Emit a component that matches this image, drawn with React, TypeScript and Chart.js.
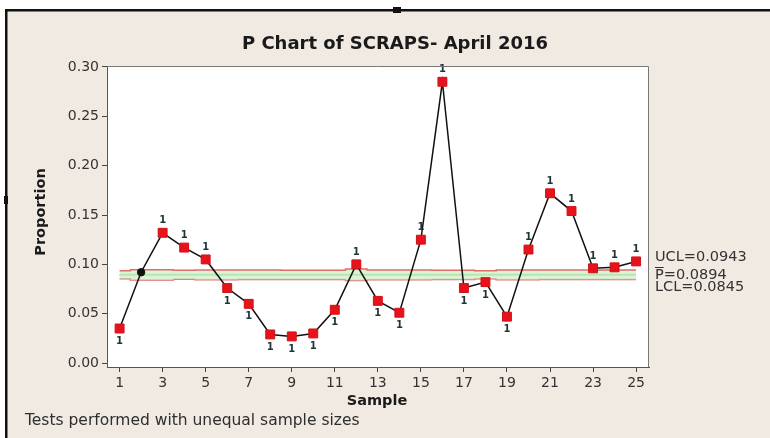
import React, { useEffect, useRef } from "react";
import { Chart, registerables } from "chart.js";

Chart.register(...registerables);

const samples = [1, 2, 3, 4, 5, 6, 7, 8, 9, 10, 11, 12, 13, 14, 15, 16, 17, 18, 19, 20, 21, 22, 23, 24, 25];
const proportions = [0.035, 0.092, 0.132, 0.117, 0.105, 0.076, 0.060, 0.029, 0.027, 0.030, 0.054, 0.100, 0.063, 0.051, 0.125, 0.285, 0.076, 0.082, 0.047, 0.115, 0.172, 0.154, 0.096, 0.097, 0.103];
const ucl = [0.0935, 0.0946, 0.0946, 0.0940, 0.0944, 0.0944, 0.0942, 0.0942, 0.0941, 0.0941, 0.0941, 0.0952, 0.0944, 0.0944, 0.0944, 0.0941, 0.0941, 0.0935, 0.0943, 0.0943, 0.0942, 0.0942, 0.0942, 0.0942, 0.0942];
const lcl = [0.0853, 0.0842, 0.0842, 0.0848, 0.0844, 0.0844, 0.0846, 0.0846, 0.0847, 0.0847, 0.0847, 0.0836, 0.0844, 0.0844, 0.0844, 0.0847, 0.0847, 0.0853, 0.0845, 0.0845, 0.0846, 0.0846, 0.0846, 0.0846, 0.0846];
const pBar = 0.0894;
const testLabels = ["1", "", "1", "1", "1", "1", "1", "1", "1", "1", "1", "1", "1", "1", "1", "1", "1", "1", "1", "1", "1", "1", "1", "1", "1"];
const xTicks = [1, 3, 5, 7, 9, 11, 13, 15, 17, 19, 21, 23, 25];
const yTicks = [0, 0.05, 0.1, 0.15, 0.2, 0.25, 0.3];
const limitLabels = ["UCL=0.0943", "P=0.0894", "LCL=0.0845"];
const titleText = "P Chart of SCRAPS- April 2016";
const footText = "Tests performed with unequal sample sizes";

const decor = {
  id: "decor",
  beforeDraw(chart: any) {
    const { ctx, chartArea: a } = chart;
    ctx.save();
    ctx.fillStyle = "#ffffff";
    ctx.fillRect(0, 0, 770, 438);
    ctx.fillStyle = "#f0eae3";
    ctx.fillRect(6, 11, 764, 427);
    ctx.fillStyle = "#111111";
    ctx.fillRect(5, 9, 765, 2.5);
    ctx.fillRect(5, 9, 2.5, 429);
    ctx.fillRect(393, 7, 8, 6);
    ctx.fillRect(4, 196, 4, 8);
    ctx.fillStyle = "#ffffff";
    ctx.fillRect(a.left, a.top, a.right - a.left, a.bottom - a.top);
    ctx.restore();
  },
  afterDatasetsDraw(chart: any) {
    const { ctx } = chart;
    const meta = chart.getDatasetMeta(0);
    ctx.save();
    ctx.font = "bold 10px 'DejaVu Sans'";
    ctx.fillStyle = "#1f3535";
    ctx.textAlign = "center";
    ctx.textBaseline = "middle";
    meta.data.forEach((pt: any, i: number) => {
      const lab = testLabels[i];
      if (!lab) return;
      const above = proportions[i] > ucl[i];
      ctx.fillText(lab, pt.x, above ? pt.y - 12 : pt.y + 13);
    });
    ctx.restore();
  },
  afterDraw(chart: any) {
    const { ctx, chartArea: a } = chart;
    ctx.save();
    ctx.strokeStyle = "#777777";
    ctx.lineWidth = 1;
    ctx.beginPath();
    ctx.moveTo(a.left, a.top + 0.5);
    ctx.lineTo(a.right - 0.5, a.top + 0.5);
    ctx.lineTo(a.right - 0.5, a.bottom);
    ctx.stroke();

    ctx.fillStyle = "#1a1a1a";
    ctx.textAlign = "center";
    ctx.textBaseline = "middle";
    ctx.font = "bold 18px 'DejaVu Sans'";
    ctx.fillText(titleText, 395, 44);

    ctx.font = "bold 14.5px 'DejaVu Sans'";
    ctx.fillText("Sample", 377, 401);
    ctx.save();
    ctx.translate(41, 212);
    ctx.rotate(-Math.PI / 2);
    ctx.fillText("Proportion", 0, 0);
    ctx.restore();

    ctx.fillStyle = "#2e2e2e";
    ctx.textAlign = "left";
    ctx.font = "15.5px 'DejaVu Sans'";
    ctx.fillText(footText, 25, 421);

    ctx.font = "14.5px 'DejaVu Sans'";
    ctx.fillStyle = "#333333";
    const ys = [257, 275, 287.5];
    limitLabels.forEach((t, i) => ctx.fillText(t, 655, ys[i]));
    const wP = ctx.measureText("P").width;
    ctx.strokeStyle = "#333333";
    ctx.lineWidth = 1;
    ctx.beginPath();
    ctx.moveTo(655, 267.5);
    ctx.lineTo(655 + wP, 267.5);
    ctx.stroke();
    ctx.restore();
  },
};

export default function App() {
  const ref = useRef<HTMLCanvasElement | null>(null);
  useEffect(() => {
    if (!ref.current) return;
    const pts = samples.map((s, i) => ({ x: s, y: proportions[i] }));
    const chart = new Chart(ref.current, {
      type: "line",
      data: {
        datasets: [
          {
            data: pts,
            borderColor: "#111111",
            borderWidth: 1.5,
            pointStyle: samples.map((_, i) => (testLabels[i] ? "rect" : "circle")) as any,
            pointRadius: samples.map((_, i) => (testLabels[i] ? 6.3 : 3.7)),
            pointBackgroundColor: samples.map((_, i) => (testLabels[i] ? "#e8131a" : "#111111")),
            pointBorderColor: samples.map((_, i) => (testLabels[i] ? "#d01018" : "#111111")),
            pointBorderWidth: 1,
            tension: 0,
          },
          {
            data: samples.map((s, i) => ({ x: s, y: ucl[i] })),
            borderColor: "#e06c6c",
            borderWidth: 1.5,
            pointRadius: 0,
            stepped: "middle",
            fill: { target: 3 },
            backgroundColor: "rgba(205,238,195,0.7)",
          },
          {
            data: samples.map((s) => ({ x: s, y: pBar })),
            borderColor: "#86d086",
            borderWidth: 2,
            pointRadius: 0,
            fill: false,
          },
          {
            data: samples.map((s, i) => ({ x: s, y: lcl[i] })),
            borderColor: "#e06c6c",
            borderWidth: 1.5,
            pointRadius: 0,
            stepped: "middle",
            fill: false,
          },
        ],
      },
      options: {
        responsive: false,
        animation: false,
        layout: { padding: { top: 66, right: 121, left: 0, bottom: 0 } },
        plugins: { legend: { display: false }, title: { display: false }, tooltip: { enabled: false } },
        scales: {
          x: {
            type: "linear",
            min: 0.415,
            max: 25.6,
            afterFit: (s: any) => { s.height = 71; },
            afterBuildTicks: (s: any) => { s.ticks = xTicks.map((v) => ({ value: v })); },
            ticks: { color: "#333333", font: { family: "'DejaVu Sans'", size: 14 }, padding: 3, maxRotation: 0, autoSkip: false, callback: (v: any) => String(v) },
            grid: { drawOnChartArea: false, tickLength: 5, color: "#444444" },
            border: { color: "#555555", width: 1 },
          },
          y: {
            type: "linear",
            min: -0.004,
            max: 0.301,
            afterFit: (s: any) => { s.width = 107; },
            afterBuildTicks: (s: any) => { s.ticks = yTicks.map((v) => ({ value: v })); },
            ticks: { color: "#333333", font: { family: "'DejaVu Sans'", size: 14 }, padding: 3, callback: (v: any) => Number(v).toFixed(2) },
            grid: { drawOnChartArea: false, tickLength: 5, color: "#444444" },
            border: { color: "#555555", width: 1 },
          },
        },
      },
      plugins: [decor],
    });
    return () => chart.destroy();
  }, []);
  return (
    <div style={{ position: "absolute", left: 0, top: 0, width: 770, height: 438 }}>
      <canvas ref={ref} width={770} height={438} />
    </div>
  );
}
